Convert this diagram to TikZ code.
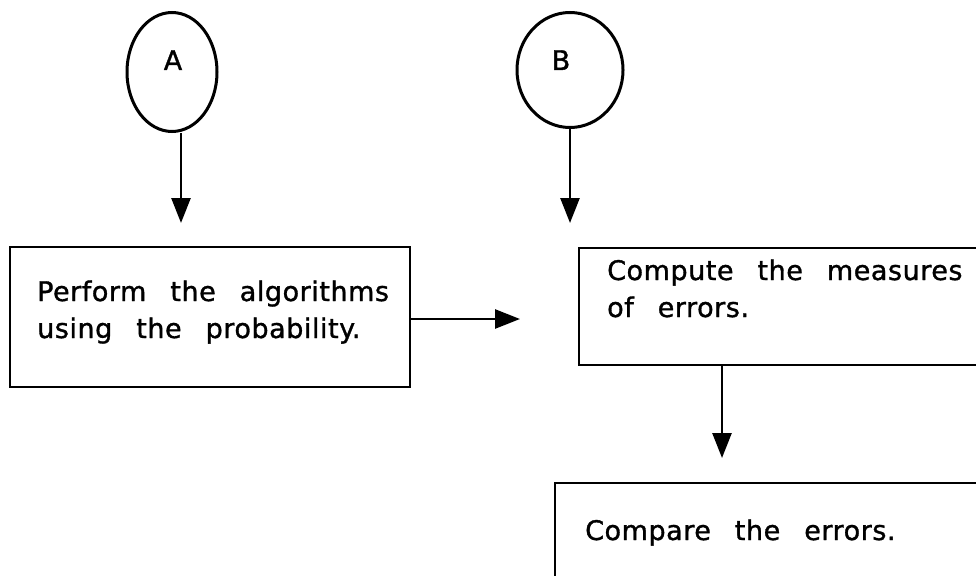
\documentclass[tikz,border=0pt]{standalone}
\usepackage{fontspec}
\setmainfont{DejaVu Sans}[LetterSpace=2,FakeBold=1.2]
\usetikzlibrary{arrows.meta,shapes.geometric}

\newcommand\chartfont{\fontsize{27}{37}\selectfont\spaceskip=24pt\relax}

\tikzset{
  terminal/.style={ellipse, draw, line width=3pt, inner sep=0pt},
  stepbox/.style={rectangle, draw, line width=2.6pt, inner sep=0pt},
  caption/.style={font=\chartfont, inner sep=0pt, align=left, anchor=base west},
  flow/.style={line width=2.6pt, -{Triangle[length=25pt,width=19pt]}}
}

\begin{document}
\begin{tikzpicture}[x=1pt,y=-1pt]
\useasboundingbox (0,0) rectangle (976,575);
\clip (0,0) rectangle (976,575);

% start markers
\node[terminal, minimum width=90pt, minimum height=119pt] (A) at (172,72) {};
\node[caption, anchor=base] (Atext) at (173,70) {A};
\node[terminal, minimum width=106pt, minimum height=115pt] (B) at (570,70) {};
\node[caption, anchor=base] (Btext) at (561,70) {B};

% process boxes (base anchor of a two-line caption sits on its last line)
\node[stepbox, minimum width=400pt, minimum height=140pt] (P1) at (210,317) {};
\node[caption] (P1text) at (37,338) {Perform the algorithms\\using the probability.};

\node[stepbox, minimum width=440pt, minimum height=117pt] (P2) at (799,306.5) {};
\node[caption] (P2text) at (607,317) {Compute the measures\\of errors.};

\node[stepbox, minimum width=460pt, minimum height=140pt] (P3) at (785,553) {};
\node[caption] (P3text) at (585,540) {Compare the errors.};

% arrow ends stop short of the boxes
\coordinate (tipA) at (181,223);
\coordinate (tipB) at (570,223);
\coordinate (tipH) at (520,319);
\coordinate (tipC) at (722,458);

\draw[flow] (A.south -| tipA) -- (tipA);
\draw[flow] (B.south) -- (tipB);
\draw[flow] (P1.east |- tipH) -- (tipH);
\draw[flow] (P2.south -| tipC) -- (tipC);
\end{tikzpicture}
\end{document}
